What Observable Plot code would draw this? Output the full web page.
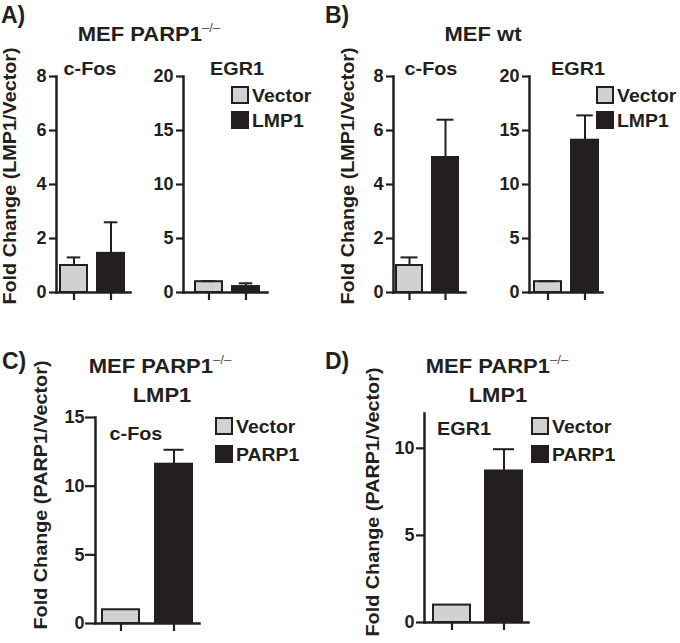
<!DOCTYPE html>
<html>
<head>
<meta charset="utf-8">
<script src="https://cdn.jsdelivr.net/npm/d3@7"></script>
<script src="https://cdn.jsdelivr.net/npm/@observablehq/plot@0.6"></script>
<style>
  html, body { margin: 0; padding: 0; background: #fff; }
  #root { position: relative; width: 680px; height: 643px; overflow: hidden; background: #fff; }
  #root svg { position: absolute; }
</style>
</head>
<body>
<div id="root"></div>
<script>
// ---------- data ----------
const groupsLMP = ["Vector", "LMP1"];
const groupsPARP = ["Vector", "PARP1"];

// Panel A: MEF PARP1-/-
const aFosMean  = [1.0, 1.45];
const aFosUpper = [1.3, 2.6];
const aEgrMean  = [1.0, 0.55];
const aEgrUpper = [1.05, 0.85];
// Panel B: MEF wt
const bFosMean  = [1.0, 5.0];
const bFosUpper = [1.3, 6.4];
const bEgrMean  = [1.0, 14.1];
const bEgrUpper = [1.05, 16.4];
// Panel C: MEF PARP1-/- LMP1, c-Fos
const cFosMean  = [1.0, 11.6];
const cFosUpper = [1.0, 12.65];
// Panel D: MEF PARP1-/- LMP1, EGR1
const dEgrMean  = [1.0, 8.7];
const dEgrUpper = [1.0, 9.95];

const ticksFos = [0, 2, 4, 6, 8];
const ticksEgr = [0, 5, 10, 15, 20];
const ticksC = [0, 5, 10, 15];
const ticksD = [0, 5, 10];

// ---------- style ----------
const DARK = "#231f20";
const GRAY = "#d0d1d3";
const FONT = "'Liberation Sans', Arial, Helvetica, sans-serif";
const root = document.getElementById("root");

function subplot(cfg, groups, mean, upper, yMax, ticks) {
  const mL = 60, mT = 12, mR = 3, mB = 14;
  const left = cfg.x0 - mL, top = cfg.yTop - mT;
  const width = cfg.x1 + mR - left, height = cfg.y0 + mB - top;
  const total = cfg.x1 - cfg.x0, step = cfg.b2 - cfg.b1;
  const pi = 1 - cfg.bw / step;
  const po = Math.max(0, (total / step - 2 + pi) / 2);
  const free = total - step - cfg.bw;
  const align = Math.min(1, Math.max(0, (cfg.b1 - cfg.x0) / free));
  const inset = (cfg.bw - cfg.cap) / 2;
  const data = groups.map((g, i) => ({g, v: mean[i], hi: upper[i]}));
  const err = data.filter(d => d.hi > d.v);
  const svg = Plot.plot({
    width, height,
    marginLeft: mL, marginTop: mT, marginRight: mR, marginBottom: mB,
    style: {fontFamily: FONT, fontWeight: "bold", fontSize: "18px", color: DARK, background: "transparent", overflow: "visible"},
    x: {type: "band", domain: groups, paddingInner: pi, paddingOuter: po, align, axis: null},
    y: {domain: [0, yMax], axis: null},
    color: {domain: groups, range: [GRAY, DARK]},
    marks: [
      Plot.barY(data, {x: "g", y: "v", fill: "g", stroke: DARK, strokeWidth: 2}),
      Plot.ruleX(err, {x: "g", y1: "v", y2: "hi", stroke: DARK, strokeWidth: 2}),
      Plot.tickY(err, {x: "g", y: "hi", insetLeft: inset, insetRight: inset, stroke: DARK, strokeWidth: 2}),
      Plot.axisY({ticks, tickSize: cfg.ts, tickPadding: cfg.tp, label: null, stroke: DARK, strokeWidth: 2.2, fill: DARK, fontSize: 18, fontWeight: "bold"}),
      Plot.axisX({tickSize: 8, tickFormat: () => "", label: null, stroke: DARK, strokeWidth: 2.2}),
      Plot.frame({anchor: "left", stroke: DARK, strokeWidth: 2.5}),
      Plot.frame({anchor: "bottom", stroke: DARK, strokeWidth: 2.5})
    ]
  });
  svg.style.left = left + "px";
  svg.style.top = top + "px";
  root.appendChild(svg);
}

subplot({x0: 56, x1: 130, y0: 292, yTop: 76, b1: 60, b2: 97, bw: 26.5, cap: 13, ts: 7, tp: 3}, groupsLMP, aFosMean, aFosUpper, 8, ticksFos);
subplot({x0: 183, x1: 267, y0: 292, yTop: 76, b1: 194, b2: 232, bw: 27.5, cap: 14, ts: 7, tp: 3}, groupsLMP, aEgrMean, aEgrUpper, 20, ticksEgr);
subplot({x0: 393, x1: 465, y0: 292, yTop: 76, b1: 396, b2: 432, bw: 26, cap: 17, ts: 7, tp: 3}, groupsLMP, bFosMean, bFosUpper, 8, ticksFos);
subplot({x0: 529, x1: 602, y0: 292, yTop: 76, b1: 534, b2: 571, bw: 26.5, cap: 16, ts: 7, tp: 3}, groupsLMP, bEgrMean, bEgrUpper, 20, ticksEgr);
subplot({x0: 95, x1: 199, y0: 623, yTop: 417, b1: 102, b2: 155, bw: 37, cap: 20, ts: 10, tp: 1}, groupsPARP, cFosMean, cFosUpper, 15, ticksC);
subplot({x0: 424, x1: 528, y0: 622, yTop: 413, b1: 433, b2: 485, bw: 37, cap: 21, ts: 8, tp: 2}, groupsPARP, dEgrMean, dEgrUpper, 12, ticksD);

// ---------- annotation overlay (titles, labels, legends) ----------
const ov = d3.select(root).append("svg")
  .attr("width", 680).attr("height", 643)
  .style("left", "0px").style("top", "0px")
  .attr("font-family", FONT).attr("font-weight", "bold").attr("fill", DARK);

function txt(x, y, s, size, anchor = "middle", rotate = false, sx = 1) {
  return ov.append("text")
    .attr("font-size", size).attr("text-anchor", anchor)
    .attr("transform", `translate(${x},${y})${rotate ? " rotate(-90)" : ""} scale(${sx},1)`)
    .text(s);
}
function titleKO(x, y) {
  const t = ov.append("text").attr("font-size", 20).attr("text-anchor", "middle")
    .attr("transform", `translate(${x},${y}) scale(1.1,1)`);
  t.append("tspan").text("MEF PARP1");
  t.append("tspan").attr("font-size", 12).attr("font-weight", "normal").attr("fill", "#555").attr("dy", -9).text("\u2013/\u2013");
}

// panel letters
txt(1, 23, "A)", 23, "start");
txt(325, 23, "B)", 23, "start");
txt(2, 369, "C)", 23, "start");
txt(325, 369, "D)", 23, "start");

// titles
titleKO(149, 41);
txt(483, 41, "MEF wt", 20, "middle", false, 1.1);
titleKO(160, 373);
txt(162, 402, "LMP1", 20, "middle", false, 1.1);
titleKO(497, 373);
txt(498, 402, "LMP1", 20, "middle", false, 1.1);

// gene labels
txt(90, 75, "c-Fos", 18, "middle", false, 1.1);
txt(237, 75, "EGR1", 18, "middle", false, 1.1);
txt(431, 75, "c-Fos", 18, "middle", false, 1.1);
txt(578, 75, "EGR1", 18, "middle", false, 1.1);
txt(136, 440, "c-Fos", 18, "middle", false, 1.1);
txt(464, 435, "EGR1", 18, "middle", false, 1.1);

// y-axis titles
txt(16, 176, "Fold Change (LMP1/Vector)", 18, "middle", true, 1.1);
txt(354, 176, "Fold Change (LMP1/Vector)", 18, "middle", true, 1.1);
txt(47, 495, "Fold Change (PARP1/Vector)", 18, "middle", true, 1.1);
txt(379, 502, "Fold Change (PARP1/Vector)", 18, "middle", true, 1.1);

// legends
function legend(x, y, groups, gap) {
  groups.forEach((g, i) => {
    ov.append("rect").attr("x", x + 1).attr("y", y + i * gap + 1).attr("width", 16).attr("height", 16)
      .attr("fill", i === 0 ? GRAY : DARK).attr("stroke", DARK).attr("stroke-width", 2);
    txt(x + 21, y + i * gap + 16, g, 18, "start", false, 1.08);
  });
}
legend(231, 86, groupsLMP, 25);
legend(596, 86, groupsLMP, 25);
legend(215, 417, groupsPARP, 28);
legend(531, 417, groupsPARP, 28);
</script>
</body>
</html>
